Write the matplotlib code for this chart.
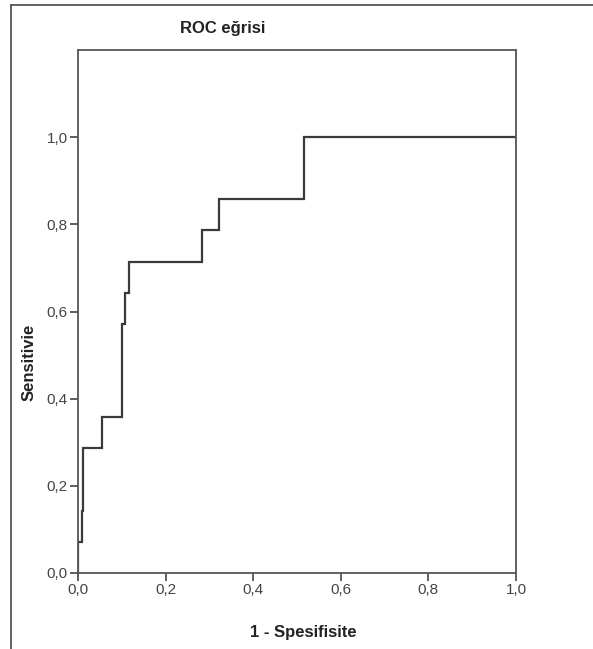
import matplotlib
matplotlib.use('Agg')
import matplotlib.pyplot as plt
from matplotlib.lines import Line2D

plt.rcParams['font.family'] = ['Liberation Sans Narrow', 'Liberation Sans', 'DejaVu Sans']

# ROC step points (1 - specificity, sensitivity)
fpr = [0.0, 0.0, 0.008, 0.008, 0.011, 0.011, 0.012, 0.012, 0.054, 0.054,
       0.100, 0.100, 0.107, 0.107, 0.117, 0.117, 0.283, 0.283, 0.322, 0.322,
       0.516, 0.516, 1.0]
tpr = [0.0, 0.071, 0.071, 0.143, 0.143, 0.214, 0.214, 0.286, 0.286, 0.357,
       0.357, 0.571, 0.571, 0.643, 0.643, 0.714, 0.714, 0.786, 0.786, 0.857,
       0.857, 1.0, 1.0]
ticks = [0.0, 0.2, 0.4, 0.6, 0.8, 1.0]
tick_labels = ['0,0', '0,2', '0,4', '0,6', '0,8', '1,0']

fig = plt.figure(figsize=(5.93, 6.49), dpi=100)
ax = fig.add_axes([78/593, 76/649, 438/593, 523/649])

ax.plot(fpr, tpr, color='#3a3a3a', lw=1.6, solid_joinstyle='miter')

ax.set_xlim(0, 1.0)
ax.set_ylim(0, 1.2)
ax.set_xticks(ticks)
ax.set_xticklabels(tick_labels)
ax.set_yticks(ticks)
ax.set_yticklabels(tick_labels)
ax.tick_params(direction='out', length=6, width=1.2, color='#444444',
               labelsize=11, labelcolor='#444444', pad=1.5)
for s in ax.spines.values():
  s.set_color('#555555')
  s.set_linewidth(1.3)

fig.text(223/593, 1 - 28/649, 'ROC eğrisi', ha='center', va='center',
         fontsize=12, fontweight='bold', color='#222222')
fig.text(303/593, 1 - 633/649, '1 - Spesifisite', ha='center', va='center',
         fontsize=12, fontweight='bold', color='#222222')
fig.text(29/593, 1 - 362/649, 'Sensitivie', ha='center', va='center',
         rotation=90, fontsize=12, fontweight='bold', color='#222222')

# outer frame (left and top edges visible)
fig.add_artist(Line2D([11/593, 11/593], [0, 1 - 5/649], transform=fig.transFigure,
                      color='#555555', lw=1.3))
fig.add_artist(Line2D([11/593, 1], [1 - 5/649, 1 - 5/649], transform=fig.transFigure,
                      color='#555555', lw=1.3))

fig.savefig('out.png', dpi=100)
